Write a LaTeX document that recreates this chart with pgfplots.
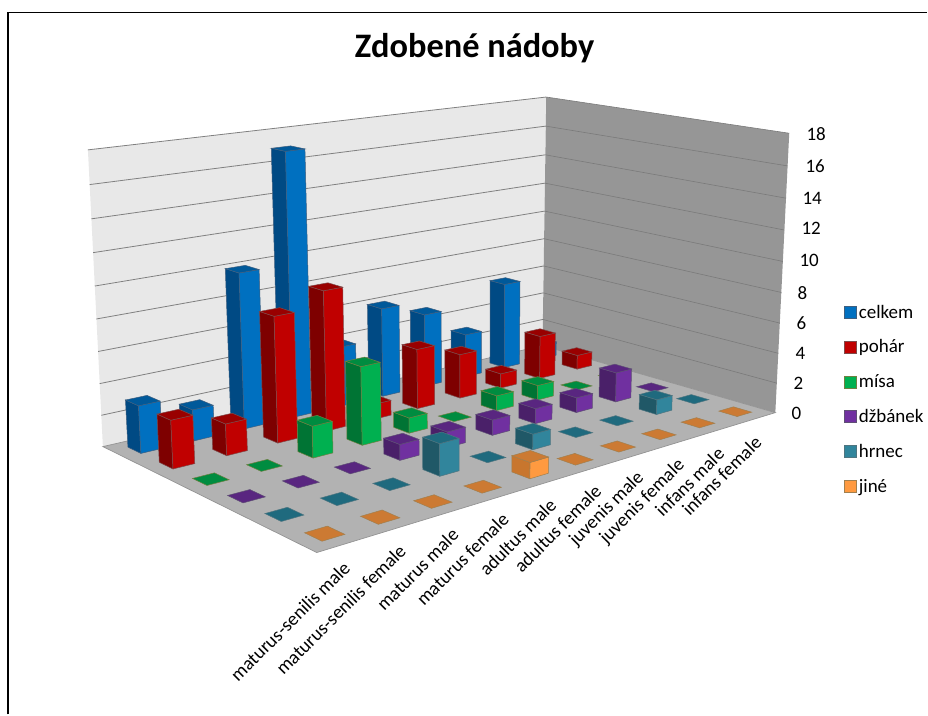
\documentclass[border=0pt]{standalone}
\usepackage{fontspec}
\setmainfont{Carlito}
\usepackage{pgfplots}
\usepackage{pgfplotstable}
\pgfplotsset{compat=1.18}
% series colours: b bright face, d dark face, t top, e edge
\definecolor{c0b}{HTML}{0070C0}\definecolor{c0d}{HTML}{004A84}\definecolor{c0t}{HTML}{00599A}\definecolor{c0e}{HTML}{3F5F80}
\definecolor{c1b}{HTML}{C00000}\definecolor{c1d}{HTML}{7E0000}\definecolor{c1t}{HTML}{990000}\definecolor{c1e}{HTML}{7F4A4A}
\definecolor{c2b}{HTML}{00B050}\definecolor{c2d}{HTML}{007434}\definecolor{c2t}{HTML}{008C40}\definecolor{c2e}{HTML}{6F8040}
\definecolor{c3b}{HTML}{7030A0}\definecolor{c3d}{HTML}{4A2069}\definecolor{c3t}{HTML}{592680}\definecolor{c3e}{HTML}{5F4F75}
\definecolor{c4b}{HTML}{31859C}\definecolor{c4d}{HTML}{205867}\definecolor{c4t}{HTML}{1F6A7E}\definecolor{c4e}{HTML}{4F7580}
\definecolor{c5b}{HTML}{FF9A40}\definecolor{c5d}{HTML}{C8762E}\definecolor{c5t}{HTML}{CC7A33}\definecolor{c5e}{HTML}{A08050}
\definecolor{wallL}{HTML}{E8E8E8}\definecolor{wallR}{HTML}{969696}\definecolor{floorc}{HTML}{B2B2B2}
\newcommand\lblfont{\fontsize{19}{21}\selectfont}
% categories in rows, series in columns
\pgfplotstableread{
celkem pohar misa dzbanek hrnec jine
3 3 0 0 0 0
2 2 0 0 0 0
10 8 2 0 0 0
17 9 5 1 2 0
4 1 1 1 0 1
6 4 0 1 1 0
5 3 1 1 0 0
3 1 1 1 0 0
6 3 0 2 1 0
1 1 0 0 0 0
}\datatable
% perspective of the Excel box: u along categories, v along series, #3 value
\def\extralean{0}
\newcommand\proj[4]{%
  \pgfmathsetmacro\D{1+0.2875*#1+0.1954*#2}%
  \pgfmathsetmacro\fx{(682.1*#1-193.9*#2+317)/\D}%
  \pgfmathsetmacro\fy{(-21.3*#1-18.7*#2+553)/\D}%
  \pgfmathsetmacro\tt{#3/18}%
  \pgfmathsetmacro\hh{(346+14*#1+9*#2)/\D*\tt/(1+0.06*(1-\tt))}%
  \pgfmathsetmacro\px{\fx+((\fx-441)/(7143-\fy)+\extralean)*\hh}%
  \pgfmathsetmacro\py{\fy-\hh}%
  \expandafter\edef\csname pt#4\endcsname{(\px,\py)}%
}
\newcommand\drawbar[3]{% i, k (0=back row), value
  \pgfmathsetmacro\uo{(#1+0.5)/10-0.02}%
  \pgfmathsetmacro\ut{(#1+0.5)/10+0.02}%
  \pgfmathsetmacro\vo{(5-#2+0.5)/6-0.035}%
  \pgfmathsetmacro\vt{(5-#2+0.5)/6+0.035}%
  \proj{\uo}{\vo}{0}{Ao}\proj{\ut}{\vo}{0}{Bo}\proj{\uo}{\vt}{0}{Eo}%
  \proj{\uo}{\vo}{#3}{At}\proj{\ut}{\vo}{#3}{Bt}\proj{\ut}{\vt}{#3}{Ct}\proj{\uo}{\vt}{#3}{Et}%
  \ifdim #3pt>0pt
    \edef\tmp{\noexpand\addplot[forget plot,fill=c#2d,draw=c#2e,line width=0.5pt] coordinates {\ptEo \ptAo \ptAt \ptEt \ptEo};}\tmp
    \edef\tmp{\noexpand\addplot[forget plot,fill=c#2b,draw=c#2e,line width=0.5pt] coordinates {\ptAo \ptBo \ptBt \ptAt \ptAo};}\tmp
  \fi
  \edef\tmp{\noexpand\addplot[forget plot,fill=c#2t,draw=c#2e,line width=0.5pt] coordinates {\ptAt \ptBt \ptCt \ptEt \ptAt};}\tmp
}
\begin{document}
\begin{tikzpicture}[x=1pt,y=1pt]
\begin{axis}[
  scale only axis, width=928pt, height=715pt,
  xmin=0, xmax=928, ymin=0, ymax=715, y dir=reverse,
  axis lines=none, clip=false,
  legend style={at={(axis cs:845,303)},anchor=north west,draw=none,fill=none,
    font=\lblfont,row sep=16.2pt,inner sep=0pt,
    /tikz/every even column/.append style={column sep=3pt}},
  legend cell align=left,
  legend image code/.code={\draw[#1] (0pt,-6pt) rectangle (12pt,6pt);},
]
% walls and floor
\proj{0}{0}{0}{a}\proj{1}{0}{0}{b}\proj{1}{1}{0}{c}\proj{0}{1}{0}{d}
\proj{1}{0}{18}{bb}\proj{1}{1}{18}{cc}\proj{0}{1}{18}{dd}
\edef\tmp{\noexpand\addplot[forget plot,fill=wallL,draw=none] coordinates {\ptd \ptc \ptcc \ptdd \ptd};}\tmp
\edef\tmp{\noexpand\addplot[forget plot,fill=wallR,draw=none] coordinates {\ptc \ptb \ptbb \ptcc \ptc};}\tmp
\foreach \g in {2,4,...,18}{
  \proj{0}{1}{\g}{p}\proj{1}{1}{\g}{q}\proj{1}{0}{\g}{r}
  \edef\tmp{\noexpand\addplot[forget plot,draw=black!50,line width=0.8pt] coordinates {\ptp \ptq};}\tmp
  \edef\tmp{\noexpand\addplot[forget plot,draw=black!52,line width=0.6pt] coordinates {\ptq \ptr};}\tmp
}
\edef\tmp{\noexpand\addplot[forget plot,fill=floorc,draw=black!42,line width=0.7pt] coordinates {\pta \ptb \ptc \ptd \pta};}\tmp
% bars, from the far corner to the near one
\def\extralean{-0.005}
\foreach \k in {0,...,5}{
  \foreach \i in {9,8,...,0}{
    \pgfplotstablegetelem{\i}{[index]\k}\of\datatable
    \edef\val{\pgfplotsretval}
    \drawbar{\i}{\k}{\val}
  }
}
\def\extralean{0}
% legend
\addlegendimage{fill=c0b,draw=c0e}\addlegendentry{celkem}
\addlegendimage{fill=c1b,draw=c1e}\addlegendentry{pohár}
\addlegendimage{fill=c2b,draw=c2e}\addlegendentry{mísa}
\addlegendimage{fill=c3b,draw=c3e}\addlegendentry{džbánek}
\addlegendimage{fill=c4b,draw=c4e}\addlegendentry{hrnec}
\addlegendimage{fill=c5b,draw=c5e}\addlegendentry{jiné}
% title
\node[font=\bfseries\fontsize{34.4}{38}\selectfont] at (axis cs:475,48) {Zdobené nádoby};
% value axis labels
\foreach \v/\xx/\yy in {0/792/414,2/794/384,4/796/354,6/797/323,8/798/293,10/800/261,12/802/229,14/803/199,16/806/166,18/807/134}{
  \edef\tmp{\noexpand\node[anchor=west,inner sep=0pt,font=\noexpand\lblfont] at (axis cs:\xx,\yy) {\v};}\tmp
}
% category labels
\foreach \i/\t in {0/maturus-senilis male,1/maturus-senilis female,2/maturus male,3/maturus female,4/adultus male,5/adultus female,6/juvenis male,7/juvenis female,8/infans male,9/infans female}{
  \pgfmathsetmacro\uu{(\i+0.5)/10}
  \proj{\uu}{0}{0}{L}
  \pgfmathsetmacro\lx{\px+1}
  \pgfmathsetmacro\ly{\py+21}
  \edef\tmp{\noexpand\node[anchor=east,rotate=45,inner sep=0pt,font=\noexpand\lblfont] at (axis cs:\lx,\ly) {\t};}\tmp
}
% frame of the chart
\draw[black,line width=1.6pt] (axis cs:8,715) -- (axis cs:8,12.5) -- (axis cs:928,12.5);
\end{axis}
\path (0,0) rectangle (928pt,715pt);
\end{tikzpicture}
\end{document}
